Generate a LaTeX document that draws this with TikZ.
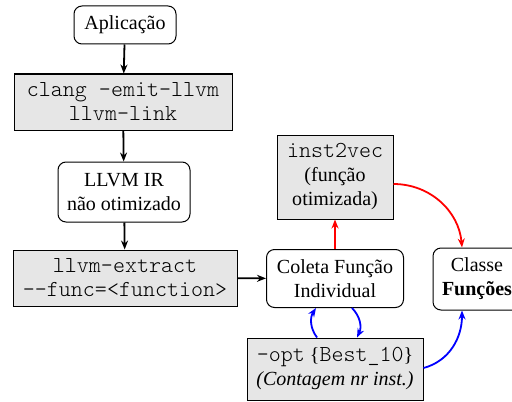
\documentclass[tikz,border=0pt]{standalone}
\usepackage{fontspec}
\setmainfont{Liberation Serif}
\setmonofont[Scale=1.143]{Latin Modern Mono Light}
\usetikzlibrary{arrows.meta}
\definecolor{boxgray}{HTML}{E6E6E6}
\definecolor{myred}{HTML}{FF0000}
\definecolor{myblue}{HTML}{0000FF}
\tikzset{
  rbox/.style={draw, line width=0.5pt, rounded corners=4pt, fill=white, align=center, inner sep=0pt, font=\fontsize{10}{12}\selectfont},
  gbox/.style={draw, line width=0.5pt, fill=boxgray, align=center, inner sep=0pt, font=\fontsize{10}{12}\selectfont},
  arr/.style={-{Stealth[length=4.5pt,width=3.5pt]}, line width=0.9pt},
}
\begin{document}
\begin{tikzpicture}[x=0.5pt,y=-0.5pt]
\useasboundingbox (0,0) rectangle (512,401);
\clip (0,0) rectangle (512,401);
\node[rbox, minimum width=51pt, minimum height=19pt] (app) at (125,25) {Aplicação};
\node[gbox, minimum width=109pt, minimum height=28pt] (clang) at (123,102) {\texttt{clang -emit-llvm}\\\texttt{llvm-link}};
\node[rbox, minimum width=66pt, minimum height=30pt] (ir) at (124,192) {LLVM IR\\não otimizado};
\node[gbox, minimum width=112pt, minimum height=28pt] (ext) at (125,278) {\texttt{llvm-extract}\\\texttt{--func=<function>}};
\node[rbox, minimum width=68.5pt, minimum height=29pt] (col) at (335,278.5) {Coleta Função\\Individual};
\node[gbox, minimum width=58pt, minimum height=42pt] (i2v) at (335,177) {\texttt{inst2vec}\\(função\\otimizada)};
\node[rbox, minimum width=44pt, minimum height=31pt] (cls) at (477,279) {Classe\\\textbf{Funções}};
\node[gbox, minimum width=88pt, minimum height=31pt] (opt) at (335,369) {\texttt{-opt} \{\texttt{Best\_10}\}\\\textit{(Contagem nr inst.)}};
\draw[arr] (app) -- (clang);
\draw[arr] (clang) -- (ir);
\draw[arr] (ir) -- (ext);
\draw[arr] (ext) -- (col);
\draw[arr, myred] (col) -- (i2v);
\draw[arr, myred] (i2v.east |- 0,184) to[out=0, in=95] (cls.north -| 462,0);
\draw[arr, myblue] (opt.north -| 317,0) to[bend left=35] (col.south -| 316,0);
\draw[arr, myblue] (col.south -| 352,0) to[bend left=35] (opt.north -| 357,0);
\draw[arr, myblue] (opt.east |- 0,368) to[out=15, in=-90] (cls.south -| 462,0);
\end{tikzpicture}
\end{document}
